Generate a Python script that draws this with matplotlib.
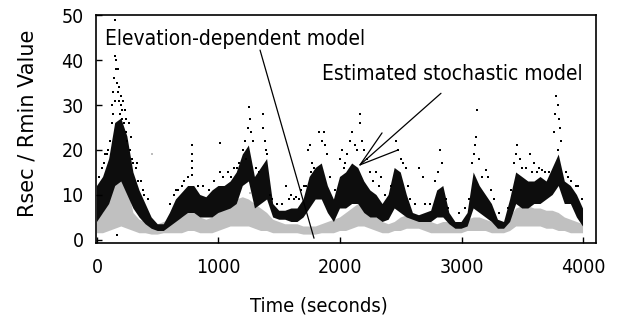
import matplotlib
matplotlib.use("Agg")
import matplotlib.pyplot as plt
import numpy as np

plt.rcParams["font.family"] = "DejaVu Sans"
plt.rcParams["font.stretch"] = "condensed"

# time grid (seconds) for the dense bands
times = np.arange(0, 4001, 50)

# elevation-dependent model (black): dense band lower / upper edge
black_lo = [4, 6, 8, 12, 13, 10, 7, 5, 3.5, 2.5, 2, 2, 3, 4, 5, 6, 6, 5, 5, 5,
            6, 6.5, 7, 8, 12, 13, 7, 8, 9, 5, 4.5, 4.5, 4, 4, 5, 7, 9, 9, 6, 4,
            7, 7, 8, 8, 6, 5, 5, 4, 4.5, 7, 6, 5, 4.5, 4, 4, 4, 5, 5, 3.5, 2.5,
            2.5, 3, 7, 6, 5, 4, 2.5, 2.5, 4, 8, 7, 7, 8, 8, 9, 10, 12, 8, 8, 5, 3]
black_hi = [12, 14, 18, 26, 27, 23, 15, 11, 8, 5, 3.5, 3.5, 6, 9, 10.5, 12, 12, 10, 9.5, 11,
            12, 12, 13, 15, 19, 21, 14, 16, 18, 8, 6.5, 6.5, 7, 7, 9, 14, 16, 17, 12, 9,
            14, 15, 17, 16, 13, 11, 10, 8, 10, 16, 15, 10, 6, 5.5, 6, 6.5, 11, 12, 6, 4,
            4, 6, 15, 12, 10, 8, 4.5, 4, 9, 15, 14, 13, 13, 14, 13, 16, 19, 13, 12, 10, 7]

# estimated stochastic model (gray): dense band lower / upper edge
gray_lo = [1.5, 1.5, 2, 2.5, 3, 2.5, 2, 1.5, 1.5, 1.2, 1.2, 1.5, 1.5, 1.5, 1.5, 2, 2, 1.5, 1.5, 1.5,
           2, 2.5, 3, 3, 3, 3, 2.5, 2, 2, 1.5, 1.5, 1.5, 1.5, 1.5, 1.2, 1.2, 1.2, 1.5, 1.5, 1.5,
           2, 2, 2.5, 3, 3, 2.5, 2, 1.5, 1.5, 2, 2, 2.5, 2.5, 2.5, 2, 1.5, 1.5, 1.5, 1.5, 1.5,
           1.5, 2, 2, 2, 2, 1.5, 1.5, 1.5, 2, 3, 3, 3, 3, 3, 2.5, 2.5, 2, 2, 1.5, 1.5, 1.5]
gray_hi = [5, 6, 9, 15, 17, 12, 6, 4.5, 4, 3.5, 3.5, 4, 4.5, 4.5, 5, 6, 6, 5, 4.5, 5,
           6, 7, 8, 9, 9.5, 9, 8, 7, 6, 4.5, 4, 3.5, 3.5, 3.5, 3, 3, 3, 3.5, 4, 4.5,
           5, 6, 7, 8, 8, 6.5, 5, 4, 3.5, 4, 5, 5.5, 5.5, 5.5, 5, 4, 3.5, 4, 4, 3.5,
           4, 4.5, 5, 5, 4.5, 4, 3.5, 3.5, 5, 7, 7.5, 7.5, 7, 7, 6.5, 6.5, 6, 5, 4.5, 4, 3.5]

# scattered black dots above the dense band
black_dot_t = [110, 120, 125, 130, 140, 148, 150, 155, 160, 165, 170, 175, 180, 190, 200, 210,
               220, 230, 240, 250, 260, 270, 280, 290, 300, 320, 165, 60, 80, 340, 380,
               782, 782, 782, 782, 782, 700, 650, 1012, 1010, 1100, 1150, 1170,
               1200, 1220, 1240, 1250, 1260, 1270, 1280, 1230, 1366, 1370, 1380, 1390, 1400,
               1555, 1600, 1640, 1680, 1700, 1740, 1750, 1770, 1790, 1830, 1850, 1870, 1880,
               1890, 2000, 2020, 2040, 2060, 2080, 2100, 2120, 2140, 2165, 2168, 2180, 2200,
               2220, 2300, 2340, 2460, 2480, 2500, 2520, 2540, 2650, 2680, 2806, 2820, 2840,
               3090, 3100, 3110, 3120, 3128, 3140, 3200, 3220, 3430, 3450, 3460, 3480, 3500,
               3560, 3600, 3640, 3660, 3760, 3770, 3780, 3790, 3800, 3810, 3820, 3795, 3880, 3900,
               135, 145, 185, 195, 205, 215, 235]
black_dot_v = [22, 26, 30, 33, 36, 49, 41, 38, 40, 35, 33, 38, 31, 28, 32, 27,
               26, 29, 24, 22, 26, 20, 23, 18, 17, 16, 1, 17, 19, 13, 11,
               21, 19, 17.5, 16, 14.5, 12, 11, 21.5, 15, 14, 16, 17,
               20, 22, 25, 29.5, 27, 24, 22, 18, 28, 25, 22, 20, 19,
               12, 10, 9.5, 11, 12, 20, 21, 17, 16, 24, 22, 24, 21,
               19, 18, 20, 17, 19, 22, 24, 21, 20, 28, 26, 22, 20,
               18, 15, 14, 22, 20, 18, 17, 16, 16, 14, 15, 20, 17,
               17, 19, 21, 23, 29, 18, 15.5, 14, 17, 19, 21, 18, 16,
               19, 17, 16, 15.5, 24, 28, 32, 30, 27, 25, 22, 20, 14, 13,
               28, 31, 34, 30, 29, 31, 27]

# loose black dots just off the edge of the dense band
edge_dot_t = [20, 40, 70, 90, 330, 360, 390, 420, 600, 630, 670, 720, 750, 830, 870, 920,
              960, 1040, 1080, 1130, 1310, 1330, 1420, 1440, 1480, 1520, 1580, 1620, 1660,
              1720, 1760, 1920, 1960, 2030, 2250, 2270, 2320, 2370, 2420, 2560, 2580, 2620,
              2700, 2740, 2780, 2870, 2890, 2980, 3030, 3060, 3170, 3240, 3270, 3310, 3380,
              3410, 3530, 3580, 3620, 3690, 3720, 3860, 3940, 3960, 3990]
edge_dot_v = [14, 16, 19, 20, 17, 13, 10, 9, 8, 10, 11, 13, 14, 12, 12, 11,
              13, 14, 15, 16, 16, 15, 10, 9, 8, 8, 9, 9, 9,
              12, 15, 14, 11, 16, 15, 13, 12, 10, 12, 12, 9, 8,
              8, 8, 13, 9, 7, 6, 7, 9, 14, 11, 9, 6, 7,
              11, 16, 15, 15, 15, 15, 15, 12, 12, 9]

# scattered gray dots
gray_dot_t = [150, 170, 190, 210, 230, 453, 760, 900, 1000, 1120, 1180, 1260, 2180, 2140, 3500, 3600]
gray_dot_v = [18, 19, 20, 18, 16, 19, 7.5, 6.5, 8, 10, 11, 10.5, 9, 9.5, 9, 8.5]

fig = plt.figure(figsize=(6.17, 3.2), dpi=100)
ax = fig.add_axes([0.1556, 0.2406, 0.8104, 0.7125])

ax.fill_between(times, gray_lo, gray_hi, facecolor="#c0c0c0", linewidth=0)
ax.scatter(gray_dot_t, gray_dot_v, s=2.5, marker="s", color="#bdbdbd", linewidths=0)
ax.fill_between(times, black_lo, black_hi, facecolor="#0d0d0d", linewidth=0)
ax.scatter(black_dot_t, black_dot_v, s=2.5, marker="s", color="black", linewidths=0)
ax.scatter(edge_dot_t, edge_dot_v, s=2.5, marker="s", color="black", linewidths=0)

ax.text(66, 43.3, "Elevation-dependent model", fontsize=15, va="baseline")
ax.annotate("", xy=(1786, 0.4), xytext=(1342, 42.2),
            arrowprops=dict(arrowstyle="-", lw=0.9, color="black", shrinkA=0, shrinkB=0))

ax.text(1852, 35.6, "Estimated stochastic model", fontsize=15, va="baseline")
for start in [(2831, 32.6), (2346, 23.8), (2477, 20)]:
    ax.annotate("", xy=(2165, 16.7), xytext=start,
                arrowprops=dict(arrowstyle="-", lw=0.9, color="black", shrinkA=0, shrinkB=0))

ax.set_xlim(-8, 4107)
ax.set_ylim(-0.67, 50)
ax.set_xticks([0, 1000, 2000, 3000, 4000])
ax.set_yticks([0, 10, 20, 30, 40, 50])
ax.tick_params(direction="in", length=4, width=1, labelsize=14)
ax.tick_params(axis="x", pad=11)
ax.tick_params(axis="y", pad=9)
for sp in ax.spines.values():
    sp.set_linewidth(1.2)

ax.set_xlabel("Time (seconds)", fontsize=14.5, va="center")
ax.xaxis.set_label_coords(0.446, -0.276)
ax.set_ylabel("Rsec / Rmin Value", fontsize=15, va="center", fontstretch="normal")
ax.yaxis.set_label_coords(-0.138, 0.526)

fig.savefig("out.png")
